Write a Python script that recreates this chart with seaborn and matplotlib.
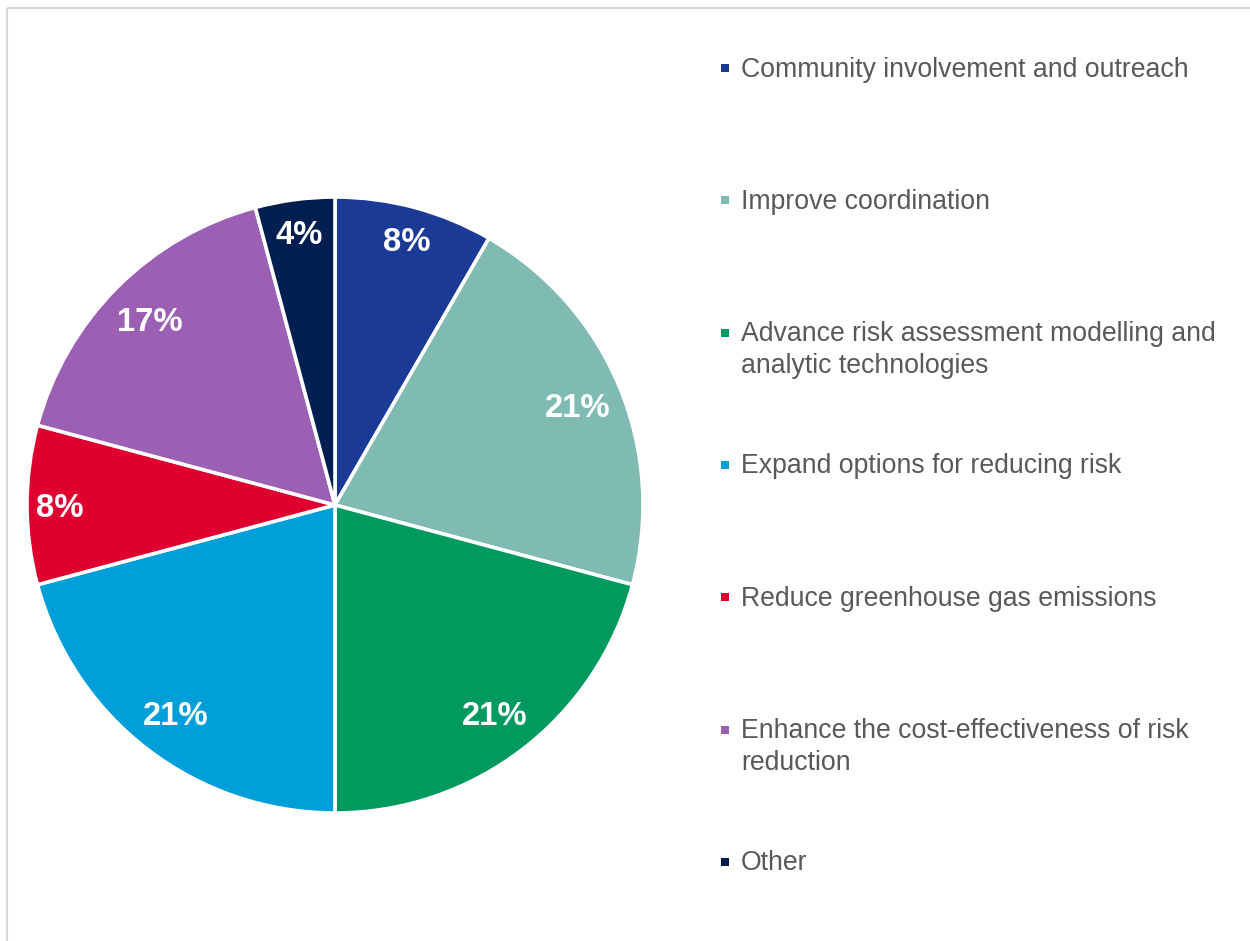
import matplotlib
matplotlib.use("Agg")
import matplotlib.pyplot as plt
import seaborn as sns
import numpy as np

categories = [
    "Community involvement and outreach",
    "Improve coordination",
    "Advance risk assessment modelling and\nanalytic technologies",
    "Expand options for reducing risk",
    "Reduce greenhouse gas emissions",
    "Enhance the cost-effectiveness of risk\nreduction",
    "Other",
]
counts = [2, 5, 5, 5, 2, 4, 1]
colors = ["#1A3A96", "#7FBBB2", "#009A5E", "#009FDA", "#E0002F", "#9B5FB4", "#001E50"]

sns.set_theme(style="white")
plt.rcParams['font.family'] = ['Liberation Sans', 'DejaVu Sans']

W, H = 1250, 941
fig = plt.figure(figsize=(W / 100, H / 100), dpi=100)
fig.patch.set_facecolor('white')

cx, cy, R = 335, 505, 308
ax = fig.add_axes([(cx - R) / W, (H - cy - R) / H, 2 * R / W, 2 * R / H])
palette = sns.color_palette(colors)
wedges, texts, autotexts = ax.pie(
    counts, colors=palette, startangle=90, counterclock=False,
    autopct='%.0f%%', pctdistance=0.87,
    wedgeprops=dict(edgecolor='white', linewidth=2.6),
    textprops=dict(color='white', fontsize=23.6, fontweight='bold'),
)
ax.set_xlim(-1, 1)
ax.set_ylim(-1, 1)
ax.set_aspect('equal')
ax.axis('off')
total = sum(counts)
for w, t, c in zip(wedges, autotexts, counts):
    w.set_clip_on(False)
    mid = np.deg2rad((w.theta1 + w.theta2) / 2)
    d = 0.895 if c / total < 0.1 else 0.852
    t.set_position((d * np.cos(mid), d * np.sin(mid)))
    t.set_ha('center')
    t.set_va('center_baseline')

# overlay for legend and border (pixel coords)
ov = fig.add_axes([0, 0, 1, 1])
ov.set_xlim(0, W)
ov.set_ylim(H, 0)
ov.axis('off')
ov.patch.set_alpha(0)

ov.plot([7, 7], [H, 8], color='#D9D9D9', lw=1.5, solid_capstyle='butt')
ov.plot([7, W], [8, 8], color='#D9D9D9', lw=1.5, solid_capstyle='butt')

for i, (lab, col) in enumerate(zip(categories, palette)):
    y = 68 + i * 132.3
    ov.scatter([725], [y], marker='s', s=34, color=col, linewidths=0)
    ov.text(741, y - 11.5, lab, va='top', ha='left', fontsize=19.2,
            color='#595959', linespacing=1.3)

fig.savefig('out.png', dpi=100)
